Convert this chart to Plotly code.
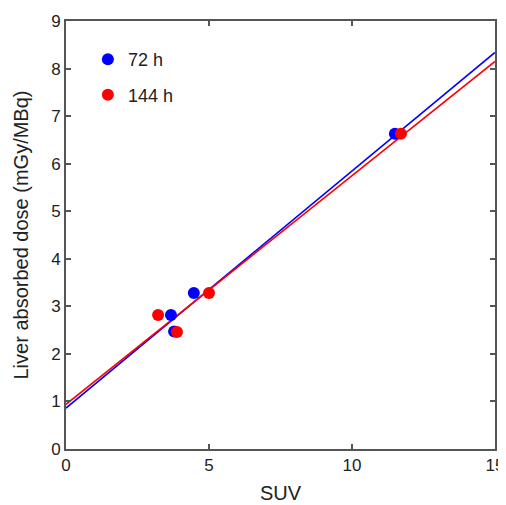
import plotly.graph_objects as go

# Data
suv_72 = [3.67, 3.78, 4.47, 11.50]
dose_72 = [2.82, 2.47, 3.28, 6.63]
suv_144 = [3.22, 3.88, 5.00, 11.71]
dose_144 = [2.82, 2.46, 3.28, 6.63]

fit_x = [0, 15]
fit_72 = [0.86, 8.34]
fit_144 = [0.94, 8.15]

x_ticks = [0, 5, 10, 15]
y_ticks = [0, 1, 2, 3, 4, 5, 6, 7, 8, 9]

BLUE = "#0000ff"
RED = "#ff0000"
FONT = "Liberation Sans, Arial"

fig = go.Figure()
fig.add_trace(go.Scatter(x=fit_x, y=fit_72, mode="lines", line=dict(color=BLUE, width=1.6),
                         showlegend=False, hoverinfo="skip"))
fig.add_trace(go.Scatter(x=fit_x, y=fit_144, mode="lines", line=dict(color=RED, width=1.6),
                         showlegend=False, hoverinfo="skip"))
fig.add_trace(go.Scatter(x=suv_72, y=dose_72, mode="markers", name="72 h", legendgroup="a",
                         marker=dict(color=BLUE, size=12)))
fig.add_trace(go.Scatter(x=suv_144, y=dose_144, mode="markers", name="144 h", legendgroup="b",
                         marker=dict(color=RED, size=12)))

axis_common = dict(showline=True, mirror="ticks", linecolor="#555555", linewidth=2,
                   ticks="inside", ticklen=5, tickwidth=1.5, tickcolor="#555555",
                   showgrid=False, zeroline=False, automargin=False,
                   tickfont=dict(family=FONT, size=17, color="#222"))

fig.update_layout(
    width=498, height=497,
    margin=dict(l=58, r=11, t=13, b=56),
    plot_bgcolor="white", paper_bgcolor="white",
    xaxis=dict(range=[0, 15], tickvals=x_ticks,
               title=dict(text="SUV", font=dict(family=FONT, size=20, color="#222"), standoff=12),
               **axis_common),
    yaxis=dict(range=[0, 9], tickvals=y_ticks,
               title=dict(text="Liver absorbed dose (mGy/MBq)", font=dict(family=FONT, size=20, color="#222"), standoff=17),
               **axis_common),
    legend=dict(x=0.051, y=0.953, xanchor="left", yanchor="top", bgcolor="rgba(0,0,0,0)",
                font=dict(family=FONT, size=18, color="#222"),
                traceorder="grouped", tracegroupgap=9, itemsizing="constant"),
)

fig.write_html("out.html")
